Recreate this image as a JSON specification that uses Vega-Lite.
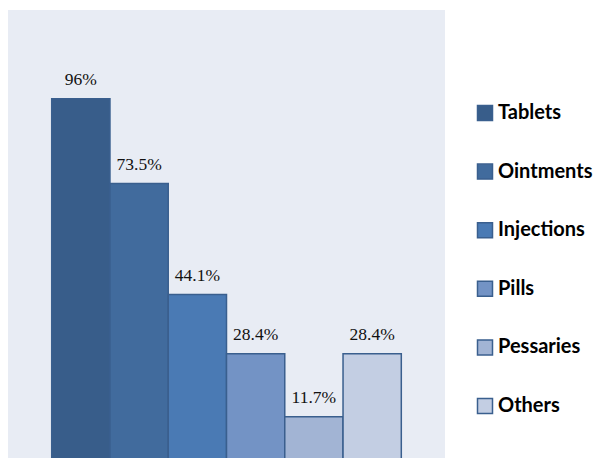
{
  "$schema": "https://vega.github.io/schema/vega-lite/v6.json",
  "width": 437,
  "height": 451,
  "padding": {"left": 8, "top": 10, "right": 0, "bottom": 0},
  "autosize": {"type": "pad"},
  "background": "white",
  "config": {"view": {"fill": "#e8ecf4", "stroke": null}},
  "data": {
    "values": [
      {"type": "Tablets", "share": 0.96},
      {"type": "Ointments", "share": 0.735},
      {"type": "Injections", "share": 0.441},
      {"type": "Pills", "share": 0.284},
      {"type": "Pessaries", "share": 0.117},
      {"type": "Others", "share": 0.284}
    ]
  },
  "encoding": {
    "x": {"field": "type", "type": "nominal", "sort": null, "scale": {"paddingInner": 0, "paddingOuter": 0.75}, "axis": null},
    "y": {"field": "share", "type": "quantitative", "scale": {"domain": [0, 1.195], "nice": false}, "axis": null}
  },
  "layer": [
    {
      "mark": {"type": "bar", "stroke": "#3a5f8e", "strokeWidth": 1.5},
      "encoding": {
        "color": {
          "field": "type",
          "type": "nominal",
          "sort": null,
          "scale": {
            "domain": ["Tablets", "Ointments", "Injections", "Pills", "Pessaries", "Others"],
            "range": ["#385d8a", "#416b9d", "#4a7ab4", "#7393c5", "#a2b4d4", "#c3cee3"]
          },
          "legend": {
            "orient": "none",
            "legendX": 467,
            "legendY": 93,
            "title": null,
            "padding": 0,
            "symbolType": "square",
            "symbolSize": 225,
            "symbolStrokeWidth": 1.5,
            "symbolStrokeColor": "#3a5f8e",
            "labelFont": "Lato",
            "labelFontWeight": "bold",
            "labelFontSize": 20,
            "labelColor": "#000000",
            "labelOffset": 3,
            "rowPadding": 36.6,
            "labelLimit": 200
          }
        }
      }
    },
    {
      "mark": {"type": "text", "font": "Liberation Serif", "fontSize": 17.5, "baseline": "alphabetic", "dy": -14, "color": "#111111"},
      "encoding": {"text": {"field": "share", "type": "quantitative", "format": ".1~%"}}
    }
  ]
}
